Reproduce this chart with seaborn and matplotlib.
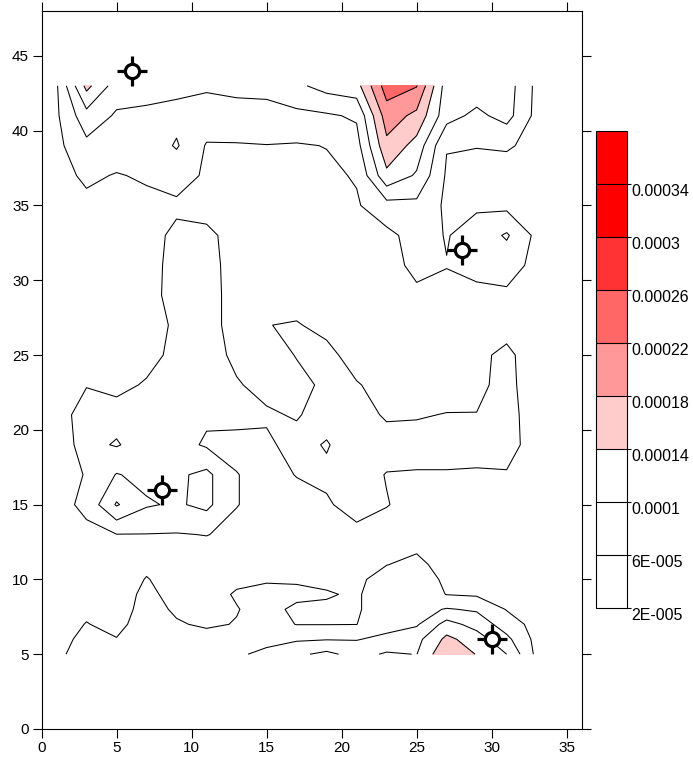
import numpy as np
import matplotlib
matplotlib.use("Agg")
import matplotlib.pyplot as plt
import seaborn as sns

# ---------------- data (concentration field, units of 1e-5) ----------------
x_nodes = [1, 3, 5, 7, 9, 11, 13, 15, 17, 19, 21, 23, 25, 27, 29, 31, 33]
y_nodes = [5, 6, 7, 8, 9, 10, 11, 12, 13, 15, 17, 19, 21, 23, 25, 27, 29, 31, 33, 35, 37, 39, 41, 43]

c_y05 = [1.3, 3.5, 3.0, 3.8, 3.5, 5.0, 5.5, 6.8, 9.2, 11.0, 8.5, 10.5, 9.9, 17.5, 13.8, 10.0, 1.0]
c_y06 = [1.0, 2.8, 2.1, 3.6, 2.7, 2.8, 3.8, 5.0, 5.5, 5.8, 5.8, 7.0, 8.8, 15.0, 12.0, 7.0, 0.8]
c_y07 = [0.9, 2.1, 1.3, 3.2, 2.2, 1.7, 2.1, 3.5, 1.9, 1.9, 1.95, 4.5, 5.5, 11.5, 8.5, 4.0, 0.6]
c_y08 = [0.6, 1.5, 1.0, 2.8, 1.7, 1.3, 1.9, 2.8, 1.5, 1.6, 1.6, 4.0, 4.5, 6.3, 5.5, 1.8, 0.5]
c_y09 = [0.4, 1.0, 1.0, 2.5, 1.3, 1.2, 2.2, 2.6, 2.6, 2.2, 1.7, 3.5, 4.0, 1.9, 1.5, 1.2, 0.6]
c_y10 = [0.3, 0.7, 0.9, 2.1, 1.2, 1.1, 1.6, 1.8, 1.7, 1.5, 1.6, 2.8, 3.4, 1.5, 1.2, 0.9, 0.5]
c_y11 = [0.3, 0.6, 0.9, 1.6, 1.0, 0.8, 0.9, 1.2, 1.2, 1.3, 1.3, 1.95, 2.5, 1.2, 1.0, 0.8, 0.5]
c_y12 = [0.3, 0.7, 1.2, 1.5, 1.2, 1.0, 1.0, 1.0, 1.0, 1.0, 1.2, 1.7, 1.8, 0.9, 0.8, 0.6, 0.4]
c_y13 = [0.4, 1.0, 1.9, 1.9, 1.8, 2.1, 1.2, 0.8, 0.8, 0.9, 1.3, 1.0, 1.0, 0.8, 0.8, 0.6, 0.4]
c_y15 = [0.5, 3.0, 10.4, 6.4, 5.5, 7.0, 2.1, 1.0, 1.0, 1.7, 3.0, 2.1, 1.2, 1.0, 1.0, 0.8, 0.5]
c_y17 = [0.5, 2.2, 6.2, 5.0, 5.3, 7.0, 2.1, 1.0, 2.1, 2.5, 3.0, 1.9, 1.8, 1.8, 1.7, 1.8, 0.5]
c_y19 = [0.6, 3.0, 1.7, 3.8, 3.5, 1.5, 1.2, 1.6, 2.8, 1.8, 3.5, 3.0, 3.0, 3.0, 3.0, 3.0, 0.8]
c_y21 = [1.0, 3.0, 3.2, 3.4, 3.5, 2.6, 2.8, 2.3, 1.8, 3.0, 3.0, 1.7, 1.8, 2.1, 2.05, 3.0, 0.6]
c_y23 = [0.8, 1.9, 1.2, 2.3, 3.2, 3.5, 2.2, 1.3, 1.4, 2.4, 2.2, 1.0, 0.8, 0.8, 1.5, 2.7, 0.6]
c_y25 = [0.3, 0.5, 0.8, 1.0, 2.8, 3.0, 1.5, 1.0, 2.1, 2.8, 0.8, 0.6, 0.5, 0.6, 1.4, 2.6, 0.5]
c_y27 = [0.2, 0.3, 0.5, 1.2, 2.3, 2.8, 1.2, 1.95, 2.2, 1.2, 0.8, 0.7, 0.6, 0.6, 0.8, 1.0, 0.6]
c_y29 = [0.2, 0.3, 0.5, 1.2, 2.8, 2.8, 1.2, 0.8, 0.8, 0.6, 0.5, 0.5, 1.4, 1.2, 1.2, 1.4, 0.8]
c_y31 = [0.2, 0.3, 0.4, 1.2, 2.7, 2.7, 1.2, 0.6, 0.5, 0.5, 0.5, 0.8, 2.8, 2.1, 3.0, 3.5, 1.0]
c_y33 = [0.3, 0.4, 0.5, 1.0, 2.6, 2.6, 1.0, 0.6, 0.5, 0.6, 0.8, 1.0, 3.5, 1.8, 3.5, 6.5, 1.0]
c_y35 = [0.5, 1.2, 0.8, 1.2, 1.5, 1.0, 0.6, 0.5, 0.5, 0.6, 1.6, 4.5, 5.0, 1.3, 1.5, 1.0, 0.6]
c_y37 = [0.8, 2.6, 1.8, 2.4, 3.2, 1.6, 1.0, 1.0, 1.0, 1.3, 2.3, 13.0, 9.5, 1.5, 1.0, 1.2, 0.8]
c_y39 = [1.0, 5.0, 3.8, 3.5, 6.4, 1.7, 1.7, 1.9, 1.7, 2.1, 4.5, 17.0, 12.5, 2.2, 2.1, 2.2, 1.5]
c_y41 = [1.4, 8.5, 5.5, 5.2, 4.8, 4.3, 4.8, 4.8, 5.0, 5.5, 6.5, 20.0, 17.0, 7.5, 5.0, 7.5, 0.8]
c_y43 = [1.5, 15.2, 8.0, 7.5, 7.0, 6.5, 6.8, 7.0, 9.2, 11.5, 12.5, 24.0, 22.2, 8.0, 8.5, 8.0, 1.0]

level_values = [2e-5, 6e-5, 1e-4, 1.4e-4, 1.8e-4, 2.2e-4, 2.6e-4, 3.0e-4, 3.4e-4, 3.8e-4]
level_labels = ["2E-005", "6E-005", "0.0001", "0.00014", "0.00018",
                "0.00022", "0.00026", "0.0003", "0.00034"]
band_colors = ["#FFFFFF", "#FFFFFF", "#FFFFFF", "#FFCCCC", "#FF9999",
               "#FF6666", "#FF3333", "#FF0000", "#FF0000"]

marker_x = [6, 28, 8, 30]
marker_y = [44, 32, 16, 6]

x_ticks = [0, 5, 10, 15, 20, 25, 30, 35]
y_ticks = [0, 5, 10, 15, 20, 25, 30, 35, 40, 45]

# ---------------- figure ----------------
sns.set_theme(style="white")
plt.rcParams["font.family"] = ["Liberation Sans", "DejaVu Sans"]

rows = [c_y05, c_y06, c_y07, c_y08, c_y09, c_y10, c_y11, c_y12, c_y13, c_y15,
        c_y17, c_y19, c_y21, c_y23, c_y25, c_y27, c_y29, c_y31, c_y33, c_y35,
        c_y37, c_y39, c_y41, c_y43]
Z = np.array(rows) * 1e-5
X, Y = np.meshgrid(np.array(x_nodes, float), np.array(y_nodes, float))

fig = plt.figure(figsize=(6.93, 7.63), dpi=100)
ax = fig.add_axes([41.5 / 693, 34 / 763, (581.7 - 41.5) / 693, (729 - 11) / 763])

cf = ax.contourf(X, Y, Z, levels=level_values, colors=band_colors)
ax.contour(X, Y, Z, levels=level_values, colors="black", linewidths=0.75)

# source markers (crosshair + circle)
ax.plot(marker_x, marker_y, linestyle="none", marker="+", ms=21.5, mew=2.3,
        color="black", zorder=6)
sns.scatterplot(x=marker_x, y=marker_y, s=105, color="white", edgecolor="black",
                linewidth=2.3, ax=ax, zorder=7, legend=False)

ax.set_xlim(0, 36)
ax.set_ylim(0, 48)
ax.set_xticks(x_ticks)
ax.set_yticks(y_ticks)
ax.set_xticklabels([str(t) for t in x_ticks])
ax.set_yticklabels([str(t) for t in y_ticks])
ax.tick_params(axis="both", direction="out", length=6.5, width=0.8,
               top=True, right=True, bottom=True, left=True,
               labeltop=False, labelright=False, labelsize=11,
               colors="black", pad=2.5)
for sp in ax.spines.values():
    sp.set_visible(True)
    sp.set_color("black")
    sp.set_linewidth(0.8)
ax.set_xlabel("")
ax.set_ylabel("")
ax.grid(False)

# colour bar
cax = fig.add_axes([596 / 693, (763 - 608.3) / 763, 31 / 693, (608.3 - 130.7) / 763])
cb = fig.colorbar(cf, cax=cax, drawedges=True)
cb.outline.set_edgecolor("black")
cb.outline.set_linewidth(0.8)
cb.dividers.set_color("black")
cb.dividers.set_linewidth(0.8)
cax.set_yticks(level_values[:-1])
cax.set_yticklabels([])
cax.tick_params(axis="y", length=3, width=0.8, direction="out", right=True,
                left=False, colors="black")
ytr = cax.get_yaxis_transform()
for v, lab in zip(level_values[:-1], level_labels):
    cax.text(1.14, v, lab, transform=ytr, va="top", ha="left", fontsize=11.5,
             color="black")

fig.savefig("out.png", dpi=100, facecolor="white")
